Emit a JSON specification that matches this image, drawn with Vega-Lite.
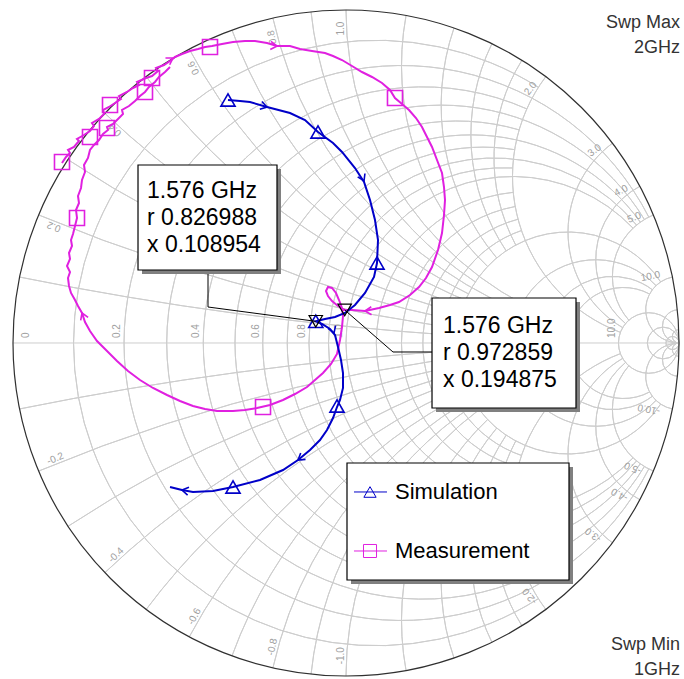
{
"$schema": "https://vega.github.io/schema/vega-lite/v6.json",
"width": 684, "height": 679, "padding": 0, "autosize": {"type": "none"},
"background": "#ffffff",
"config": {"view": {"stroke": null}},
"datasets": {
"grid": [
{"u":0.0909,"v":0,"rad":0.9091,"t1":-212.39,"t2":32.39},
{"u":0.2308,"v":0,"rad":0.7692,"t1":-203.96,"t2":23.96},
{"u":0.3333,"v":0,"rad":0.6667,"t1":-196.26,"t2":16.26},
{"u":0.4118,"v":0,"rad":0.5882,"t1":-189.27,"t2":9.27},
{"u":0.4737,"v":0,"rad":0.5263,"t1":-182.94,"t2":2.94},
{"u":0.5455,"v":0,"rad":0.4545,"t1":-174.55,"t2":-5.45},
{"u":0.5833,"v":0,"rad":0.4167,"t1":-169.61,"t2":-10.39},
{"u":0.6154,"v":0,"rad":0.3846,"t1":-165.14,"t2":-14.86},
{"u":0.6429,"v":0,"rad":0.3571,"t1":-161.08,"t2":-18.92},
{"u":0.1667,"v":0,"rad":0.8333,"t1":-243.01,"t2":63.01},
{"u":0.2857,"v":0,"rad":0.7143,"t1":-238.72,"t2":58.72},
{"u":0.375,"v":0,"rad":0.625,"t1":-234.52,"t2":54.52},
{"u":0.4444,"v":0,"rad":0.5556,"t1":-230.4,"t2":50.4},
{"u":0.5,"v":0,"rad":0.5,"t1":-226.4,"t2":46.4},
{"u":0.6667,"v":0,"rad":0.3333,"t1":-236.6,"t2":56.6},
{"u":0.75,"v":0,"rad":0.25,"t1":-226.4,"t2":46.4},
{"u":0.8,"v":0,"rad":0.2,"t1":-216.87,"t2":36.87},
{"u":0.8333,"v":0,"rad":0.1667,"t1":-208.07,"t2":28.07},
{"u":0.9091,"v":0,"rad":0.0909,"t1":-270,"t2":90},
{"u":0.9524,"v":0,"rad":0.0476,"t1":-270,"t2":90},
{"u":0.9804,"v":0,"rad":0.0196,"t1":-270,"t2":90},
{"u":1,"v":10,"rad":10,"t1":183.82,"t2":191.42},
{"u":1,"v":-10,"rad":10,"t1":-11.42,"t2":-3.82},
{"u":1,"v":3.3333,"rad":3.3333,"t1":191.42,"t2":213.4},
{"u":1,"v":-3.3333,"rad":3.3333,"t1":-33.4,"t2":-11.42},
{"u":1,"v":2,"rad":2,"t1":198.92,"t2":233.13},
{"u":1,"v":-2,"rad":2,"t1":-53.13,"t2":-18.92},
{"u":1,"v":1.4286,"rad":1.4286,"t1":206.27,"t2":249.98},
{"u":1,"v":-1.4286,"rad":1.4286,"t1":-69.98,"t2":-26.27},
{"u":1,"v":1.1111,"rad":1.1111,"t1":213.4,"t2":263.97},
{"u":1,"v":-1.1111,"rad":1.1111,"t1":-83.97,"t2":-33.4},
{"u":1,"v":0.8333,"rad":0.8333,"t1":223.6,"t2":280.39},
{"u":1,"v":-0.8333,"rad":0.8333,"t1":-100.39,"t2":-43.6},
{"u":1,"v":0.7143,"rad":0.7143,"t1":230.04,"t2":288.92},
{"u":1,"v":-0.7143,"rad":0.7143,"t1":-108.92,"t2":-50.04},
{"u":1,"v":0.625,"rad":0.625,"t1":236.14,"t2":295.99},
{"u":1,"v":-0.625,"rad":0.625,"t1":-115.99,"t2":-56.14},
{"u":1,"v":0.5556,"rad":0.5556,"t1":241.93,"t2":301.89},
{"u":1,"v":-0.5556,"rad":0.5556,"t1":-121.89,"t2":-61.93},
{"u":1,"v":5,"rad":5,"t1":183.82,"t2":202.62},
{"u":1,"v":-5,"rad":5,"t1":-22.62,"t2":-3.82},
{"u":1,"v":2.5,"rad":2.5,"t1":187.63,"t2":223.6},
{"u":1,"v":-2.5,"rad":2.5,"t1":-43.6,"t2":-7.63},
{"u":1,"v":1.6667,"rad":1.6667,"t1":191.42,"t2":241.93},
{"u":1,"v":-1.6667,"rad":1.6667,"t1":-61.93,"t2":-11.42},
{"u":1,"v":1.25,"rad":1.25,"t1":195.19,"t2":257.32},
{"u":1,"v":-1.25,"rad":1.25,"t1":-77.32,"t2":-15.19},
{"u":1,"v":1,"rad":1,"t1":198.92,"t2":270},
{"u":1,"v":-1,"rad":1,"t1":-90,"t2":-18.92},
{"u":1,"v":0.5,"rad":0.5,"t1":200.61,"t2":306.87},
{"u":1,"v":-0.5,"rad":0.5,"t1":-126.87,"t2":-20.61},
{"u":1,"v":0.3333,"rad":0.3333,"t1":210.51,"t2":323.13},
{"u":1,"v":-0.3333,"rad":0.3333,"t1":-143.13,"t2":-30.51},
{"u":1,"v":0.25,"rad":0.25,"t1":219.96,"t2":331.93},
{"u":1,"v":-0.25,"rad":0.25,"t1":-151.93,"t2":-39.96},
{"u":1,"v":0.2,"rad":0.2,"t1":228.88,"t2":337.38},
{"u":1,"v":-0.2,"rad":0.2,"t1":-157.38,"t2":-48.88},
{"u":1,"v":0.1,"rad":0.1,"t1":180,"t2":348.58},
{"u":1,"v":-0.1,"rad":0.1,"t1":-168.58,"t2":0},
{"u":1,"v":0.05,"rad":0.05,"t1":180,"t2":354.28},
{"u":1,"v":-0.05,"rad":0.05,"t1":-174.28,"t2":0},
{"u":1,"v":0.02,"rad":0.02,"t1":180,"t2":357.71},
{"u":1,"v":-0.02,"rad":0.02,"t1":-177.71,"t2":0}
],
"axisLabels": [
{"u":-0.946,"v":0.015,"t":"0"},
{"u":-0.672,"v":0.015,"t":"0.2"},
{"u":-0.434,"v":0.015,"t":"0.4"},
{"u":-0.255,"v":0.015,"t":"0.6"},
{"u":-0.116,"v":0.015,"t":"0.8"},
{"u":-0.005,"v":0.015,"t":"1.0"},
{"u":0.328,"v":0.015,"t":"2.0"},
{"u":0.495,"v":0.015,"t":"3.0"},
{"u":0.595,"v":0.015,"t":"4.0"},
{"u":0.662,"v":0.015,"t":"5.0"},
{"u":0.813,"v":0.015,"t":"10.0"}
],
"rimTop": [
{"u":-0.8908,"v":0.3711,"t":"0.2","ang":-157.38},
{"u":-0.6988,"v":0.6656,"t":"0.4","ang":-136.4},
{"u":-0.4541,"v":0.8515,"t":"0.6","ang":-118.07},
{"u":-0.2118,"v":0.9415,"t":"0.8","ang":-102.68},
{"u":0,"v":0.965,"t":"1.0","ang":-90},
{"u":0.579,"v":0.772,"t":"2.0","ang":-53.13},
{"u":0.772,"v":0.579,"t":"3.0","ang":-36.87},
{"u":0.8515,"v":0.4541,"t":"4.0","ang":-28.07},
{"u":0.8908,"v":0.3711,"t":"5.0","ang":-22.62},
{"u":0.9459,"v":0.1911,"t":"10.0","ang":-11.42}
],
"rimBot": [
{"u":-0.8908,"v":-0.3711,"t":"-0.2","ang":-22.62},
{"u":-0.6988,"v":-0.6656,"t":"-0.4","ang":-43.6},
{"u":-0.4541,"v":-0.8515,"t":"-0.6","ang":-61.93},
{"u":-0.2118,"v":-0.9415,"t":"-0.8","ang":-77.32},
{"u":0,"v":-0.965,"t":"-1.0","ang":-90},
{"u":0.579,"v":-0.772,"t":"-2.0","ang":-126.87},
{"u":0.772,"v":-0.579,"t":"-3.0","ang":-143.13},
{"u":0.8515,"v":-0.4541,"t":"-4.0","ang":-151.93},
{"u":0.8908,"v":-0.3711,"t":"-5.0","ang":-157.38},
{"u":0.9459,"v":-0.1911,"t":"-10.0","ang":-168.58}
],
"meas": [
{"i":0,"u":-0.8529,"v":0.5405},{"i":1,"u":-0.8408,"v":0.5586},{"i":2,"u":-0.8288,"v":0.5706},{"i":3,"u":-0.8348,"v":0.5796},{"i":4,"u":-0.8168,"v":0.5886},{"i":5,"u":-0.8018,"v":0.6066},{"i":6,"u":-0.8078,"v":0.6126},{"i":7,"u":-0.7868,"v":0.6246},{"i":8,"u":-0.7688,"v":0.6366},{"i":9,"u":-0.7568,"v":0.6517},
{"i":10,"u":-0.7628,"v":0.6607},{"i":11,"u":-0.7417,"v":0.6727},{"i":12,"u":-0.7267,"v":0.6877},{"i":13,"u":-0.7297,"v":0.6997},{"i":14,"u":-0.7117,"v":0.7087},{"i":15,"u":-0.6937,"v":0.7207},{"i":16,"u":-0.6757,"v":0.7327},{"i":17,"u":-0.6817,"v":0.7417},{"i":18,"u":-0.6577,"v":0.7538},{"i":19,"u":-0.6396,"v":0.7658},
{"i":20,"u":-0.6216,"v":0.7748},{"i":21,"u":-0.6276,"v":0.7838},{"i":22,"u":-0.6006,"v":0.7958},{"i":23,"u":-0.5826,"v":0.8018},{"i":24,"u":-0.5646,"v":0.8168},{"i":25,"u":-0.5706,"v":0.8258},{"i":26,"u":-0.5465,"v":0.8348},{"i":27,"u":-0.5285,"v":0.8468},{"i":28,"u":-0.5135,"v":0.8589},{"i":29,"u":-0.4925,"v":0.8679},
{"i":30,"u":-0.4685,"v":0.8769},{"i":31,"u":-0.4444,"v":0.8829},{"i":32,"u":-0.4234,"v":0.8889},{"i":33,"u":-0.4024,"v":0.8919},{"i":34,"u":-0.3724,"v":0.8979},{"i":35,"u":-0.3393,"v":0.9039},{"i":36,"u":-0.3033,"v":0.9069},{"i":37,"u":-0.2733,"v":0.9069},{"i":38,"u":-0.2372,"v":0.9009},{"i":39,"u":-0.2072,"v":0.8919},
{"i":40,"u":-0.1682,"v":0.8919},{"i":41,"u":-0.1381,"v":0.8829},{"i":42,"u":-0.1021,"v":0.8769},{"i":43,"u":-0.0631,"v":0.8709},{"i":44,"u":-0.039,"v":0.8619},{"i":45,"u":-0.012,"v":0.8498},{"i":46,"u":0.018,"v":0.8318},{"i":47,"u":0.048,"v":0.8138},{"i":48,"u":0.0781,"v":0.7988},{"i":49,"u":0.1081,"v":0.7808},
{"i":50,"u":0.1321,"v":0.7598},{"i":51,"u":0.1471,"v":0.7357},{"i":52,"u":0.1682,"v":0.7177},{"i":53,"u":0.1892,"v":0.6997},{"i":54,"u":0.2102,"v":0.6757},{"i":55,"u":0.2282,"v":0.6486},{"i":56,"u":0.2432,"v":0.6186},{"i":57,"u":0.2583,"v":0.5886},{"i":58,"u":0.2733,"v":0.5495},{"i":59,"u":0.2883,"v":0.5105},
{"i":60,"u":0.2943,"v":0.4685},{"i":61,"u":0.2973,"v":0.4294},{"i":62,"u":0.2943,"v":0.3844},{"i":63,"u":0.2883,"v":0.3303},{"i":64,"u":0.2763,"v":0.2793},{"i":65,"u":0.2583,"v":0.2282},{"i":66,"u":0.2402,"v":0.1952},{"i":67,"u":0.2192,"v":0.1682},{"i":68,"u":0.1922,"v":0.1441},{"i":69,"u":0.1592,"v":0.1231},
{"i":70,"u":0.1321,"v":0.1141},{"i":71,"u":0.0991,"v":0.1051},{"i":72,"u":0.0571,"v":0.0961},{"i":73,"u":0.018,"v":0.0991},{"i":74,"u":-0.0039,"v":0.0992},{"i":75,"u":-0.024,"v":0.1111},{"i":76,"u":-0.042,"v":0.1261},{"i":77,"u":-0.0541,"v":0.1411},{"i":78,"u":-0.0601,"v":0.1562},{"i":79,"u":-0.0541,"v":0.1682},
{"i":80,"u":-0.042,"v":0.1652},{"i":81,"u":-0.03,"v":0.1502},{"i":82,"u":-0.021,"v":0.1291},{"i":83,"u":-0.012,"v":0.1051},{"i":84,"u":-0.009,"v":0.0811},{"i":85,"u":-0.012,"v":0.048},{"i":86,"u":-0.018,"v":0.009},{"i":87,"u":-0.027,"v":-0.033},{"i":88,"u":-0.045,"v":-0.0631},{"i":89,"u":-0.0691,"v":-0.0901},
{"i":90,"u":-0.0931,"v":-0.1111},{"i":91,"u":-0.1171,"v":-0.1321},{"i":92,"u":-0.1532,"v":-0.1532},{"i":93,"u":-0.1892,"v":-0.1712},{"i":94,"u":-0.2282,"v":-0.1862},{"i":95,"u":-0.2673,"v":-0.1952},{"i":96,"u":-0.3033,"v":-0.2012},{"i":97,"u":-0.3393,"v":-0.2042},{"i":98,"u":-0.3874,"v":-0.2042},{"i":99,"u":-0.4234,"v":-0.1982},
{"i":100,"u":-0.4595,"v":-0.1892},{"i":101,"u":-0.4985,"v":-0.1742},{"i":102,"u":-0.5375,"v":-0.1562},{"i":103,"u":-0.5796,"v":-0.1351},{"i":104,"u":-0.6186,"v":-0.1111},{"i":105,"u":-0.6547,"v":-0.0841},{"i":106,"u":-0.6877,"v":-0.0541},{"i":107,"u":-0.7177,"v":-0.024},{"i":108,"u":-0.7477,"v":0.006},{"i":109,"u":-0.7688,"v":0.036},
{"i":110,"u":-0.7838,"v":0.0631},{"i":111,"u":-0.7928,"v":0.0901},{"i":112,"u":-0.8048,"v":0.1111},{"i":113,"u":-0.8138,"v":0.1291},{"i":114,"u":-0.8258,"v":0.1502},{"i":115,"u":-0.8318,"v":0.1712},{"i":116,"u":-0.8348,"v":0.1952},{"i":117,"u":-0.8288,"v":0.2132},{"i":118,"u":-0.8378,"v":0.2312},{"i":119,"u":-0.8288,"v":0.2523},
{"i":120,"u":-0.8318,"v":0.2703},{"i":121,"u":-0.8228,"v":0.2913},{"i":122,"u":-0.8258,"v":0.3093},{"i":123,"u":-0.8198,"v":0.3273},{"i":124,"u":-0.8138,"v":0.3514},{"i":125,"u":-0.8078,"v":0.3754},{"i":126,"u":-0.8108,"v":0.3994},{"i":127,"u":-0.8018,"v":0.4204},{"i":128,"u":-0.8048,"v":0.4414},{"i":129,"u":-0.7958,"v":0.4655},
{"i":130,"u":-0.7928,"v":0.4895},{"i":131,"u":-0.7838,"v":0.5135},{"i":132,"u":-0.7868,"v":0.5345},{"i":133,"u":-0.7748,"v":0.5556},{"i":134,"u":-0.7688,"v":0.5796},{"i":135,"u":-0.7568,"v":0.5946},{"i":136,"u":-0.7417,"v":0.6096},{"i":137,"u":-0.7297,"v":0.6276},{"i":138,"u":-0.7147,"v":0.6396},{"i":139,"u":-0.7177,"v":0.6486},
{"i":140,"u":-0.6997,"v":0.6577},{"i":141,"u":-0.6847,"v":0.6727},{"i":142,"u":-0.6697,"v":0.6877},{"i":143,"u":-0.6727,"v":0.6997},{"i":144,"u":-0.6517,"v":0.7117},{"i":145,"u":-0.6336,"v":0.7267},{"i":146,"u":-0.6186,"v":0.7417},{"i":147,"u":-0.6036,"v":0.7538},{"i":148,"u":-0.5916,"v":0.7688},{"i":149,"u":-0.5736,"v":0.7838},
{"i":150,"u":-0.5616,"v":0.7988},{"i":151,"u":-0.5435,"v":0.8138},{"i":152,"u":-0.5285,"v":0.8288}
],
"sim": [
{"i":0,"u":-0.3544,"v":0.7297},{"i":1,"u":-0.3183,"v":0.7267},{"i":2,"u":-0.2883,"v":0.7237},{"i":3,"u":-0.2372,"v":0.7087},{"i":4,"u":-0.1682,"v":0.6907},{"i":5,"u":-0.1231,"v":0.6697},{"i":6,"u":-0.0841,"v":0.6336},{"i":7,"u":-0.039,"v":0.6006},{"i":8,"u":-0.012,"v":0.5736},{"i":9,"u":0.027,"v":0.5255},
{"i":10,"u":0.0541,"v":0.4835},{"i":11,"u":0.0721,"v":0.4294},{"i":12,"u":0.0871,"v":0.3694},{"i":13,"u":0.0961,"v":0.3093},{"i":14,"u":0.0931,"v":0.2402},{"i":15,"u":0.0841,"v":0.1982},{"i":16,"u":0.0571,"v":0.1502},{"i":17,"u":0.027,"v":0.1141},{"i":18,"u":-0.003,"v":0.0901},{"i":19,"u":-0.033,"v":0.0781},
{"i":20,"u":-0.0631,"v":0.0721},{"i":21,"u":-0.0908,"v":0.0651},{"i":22,"u":-0.0721,"v":0.0571},{"i":23,"u":-0.048,"v":0.042},{"i":24,"u":-0.033,"v":0.024},{"i":25,"u":-0.024,"v":-0.012},{"i":26,"u":-0.015,"v":-0.0511},{"i":27,"u":-0.009,"v":-0.0901},{"i":28,"u":-0.009,"v":-0.1351},{"i":29,"u":-0.018,"v":-0.1712},
{"i":30,"u":-0.027,"v":-0.1922},{"i":31,"u":-0.039,"v":-0.2252},{"i":32,"u":-0.0571,"v":-0.2613},{"i":33,"u":-0.0781,"v":-0.2913},{"i":34,"u":-0.1081,"v":-0.3213},{"i":35,"u":-0.1441,"v":-0.3514},{"i":36,"u":-0.1892,"v":-0.3814},{"i":37,"u":-0.2583,"v":-0.4114},{"i":38,"u":-0.3393,"v":-0.4324},{"i":39,"u":-0.3994,"v":-0.4444},
{"i":40,"u":-0.4595,"v":-0.4474},{"i":41,"u":-0.4925,"v":-0.4414},{"i":42,"u":-0.5285,"v":-0.4324}
],
"measMk": [
{"u":-0.8529,"v":0.5435},{"u":-0.8078,"v":0.3754},{"u":-0.7688,"v":0.6186},{"u":-0.7177,"v":0.6456},{"u":-0.7087,"v":0.7147},
{"u":-0.6036,"v":0.7538},{"u":-0.5826,"v":0.7958},{"u":-0.4084,"v":0.8889},{"u":0.1471,"v":0.7357},{"u":-0.2492,"v":-0.1922}
],
"simMk": [
{"u":-0.3544,"v":0.7297},{"u":-0.0841,"v":0.6336},{"u":0.0931,"v":0.2402},{"u":-0.0908,"v":0.0651},{"u":-0.027,"v":-0.1892},{"u":-0.3393,"v":-0.4324}
],
"arrows": [
{"u":-0.2372,"v":0.7087,"s":"sim","ang":15},
{"u":0.0541,"v":0.4865,"s":"sim","ang":65},
{"u":-0.036,"v":0.03,"s":"sim","ang":70},
{"u":-0.1441,"v":-0.3514,"s":"sim","ang":143},
{"u":-0.4925,"v":-0.4414,"s":"sim","ang":190},
{"u":-0.2072,"v":0.8919,"s":"meas","ang":5},
{"u":-0.5195,"v":0.8559,"s":"meas","ang":-32},
{"u":-0.7928,"v":0.0901,"s":"meas","ang":-112},
{"u":0.0571,"v":0.0961,"s":"meas","ang":178}
],
"annMk": [{"u":-0.0908,"v":0.0651},{"u":-0.0039,"v":0.0992}],
"leaders": [
{"id":1,"i":0,"u":-0.4144,"v":0.2192},{"id":1,"i":1,"u":-0.4144,"v":0.1081},{"id":1,"i":2,"u":-0.0908,"v":0.0651},
{"id":2,"i":0,"u":0.2583,"v":-0.027},{"id":2,"i":1,"u":0.1411,"v":-0.027},{"id":2,"i":2,"u":-0.0039,"v":0.0992}
],
"shadows": [
{"u":-0.6126,"u2":-0.1952,"v":0.5225,"v2":0.2072},
{"u":0.2703,"u2":0.7027,"v":0.1231,"v2":-0.2072},
{"u":0.015,"u2":0.6817,"v":-0.3724,"v2":-0.7237}
],
"boxes": [
{"u":-0.6246,"u2":-0.2072,"v":0.5345,"v2":0.2192},
{"u":0.2583,"u2":0.6907,"v":0.1351,"v2":-0.1952},
{"u":0.003,"u2":0.6697,"v":-0.3604,"v2":-0.7117}
],
"annText": [
{"u":-0.5976,"v":0.4354,"t":"1.576 GHz"},
{"u":-0.5976,"v":0.3544,"t":"r 0.826988"},
{"u":-0.5976,"v":0.2733,"t":"x 0.108954"},
{"u":0.2913,"v":0.03,"t":"1.576 GHz"},
{"u":0.2913,"v":-0.0511,"t":"r 0.972859"},
{"u":0.2913,"v":-0.1321,"t":"x 0.194875"}
],
"legLines": [
{"u":0.024,"u2":0.1231,"v":-0.4474,"s":"sim"},
{"u":0.024,"u2":0.1231,"v":-0.6246,"s":"meas"}
],
"legTri": [{"u":0.0721,"v":-0.4474}],
"legSq": [{"u":0.0721,"v":-0.6246}],
"legText": [
{"u":0.1471,"v":-0.4685,"t":"Simulation"},
{"u":0.1471,"v":-0.6456,"t":"Measurement"}
],
"swp": [
{"u":1.003,"v":0.9459,"t":"Swp Max"},
{"u":1.003,"v":0.8709,"t":"2GHz"},
{"u":1.003,"v":-0.9219,"t":"Swp Min"},
{"u":1.003,"v":-0.997,"t":"1GHz"}
]
},
"encoding": {
"x": {"field":"u","type":"quantitative","scale":{"domain":[-1.03904,1.01502],"nice":false,"zero":false},"axis":null},
"y": {"field":"v","type":"quantitative","scale":{"domain":[-1.00901,1.03003],"nice":false,"zero":false},"axis":null}
},
"layer": [
{"data":{"name":"grid"},"mark":{"type":"arc","filled":false,"color":"#cdcdcd","strokeWidth":1},
 "encoding":{
  "theta":{"field":"t1","type":"quantitative","stack":null,"scale":{"type":"linear","domain":[0,360],"range":[0,6.283185307]}},
  "theta2":{"field":"t2"},
  "radius":{"field":"rad","type":"quantitative","stack":null,"scale":{"type":"linear","domain":[0,1],"range":[0,333]}},
  "radius2":{"field":"rad"}}},
{"data":{"values":[{"u":-1,"u2":1,"v":0}]},"mark":{"type":"rule","color":"#cdcdcd","strokeWidth":1},"encoding":{"x2":{"field":"u2"}}},
{"data":{"values":[{"u":0,"v":0,"rad":1,"t1":0,"t2":360}]},"mark":{"type":"arc","filled":false,"color":"#303030","strokeWidth":1.2},
 "encoding":{
  "theta":{"field":"t1","type":"quantitative","stack":null},
  "theta2":{"field":"t2"},
  "radius":{"field":"rad","type":"quantitative","stack":null},
  "radius2":{"field":"rad"}}},
{"data":{"name":"axisLabels"},"mark":{"type":"text","angle":270,"align":"left","baseline":"bottom","fontSize":10,"font":"Liberation Sans","color":"#a0a0a0"},"encoding":{"text":{"field":"t"}}},
{"data":{"name":"rimTop"},"mark":{"type":"text","align":"right","baseline":"bottom","fontSize":10,"font":"Liberation Sans","color":"#a0a0a0"},"encoding":{"text":{"field":"t"},"angle":{"field":"ang","type":"quantitative","scale":null}}},
{"data":{"name":"rimBot"},"mark":{"type":"text","align":"left","baseline":"bottom","fontSize":10,"font":"Liberation Sans","color":"#a0a0a0"},"encoding":{"text":{"field":"t"},"angle":{"field":"ang","type":"quantitative","scale":null}}},
{"data":{"name":"meas"},"mark":{"type":"line","color":"#e020e0","strokeWidth":2},"encoding":{"order":{"field":"i","type":"quantitative"}}},
{"data":{"name":"sim"},"mark":{"type":"line","color":"#0000c8","strokeWidth":2},"encoding":{"order":{"field":"i","type":"quantitative"}}},
{"data":{"name":"measMk"},"mark":{"type":"point","shape":"square","filled":false,"color":"#e020e0","size":225,"strokeWidth":1.6,"opacity":1}},
{"data":{"name":"simMk"},"mark":{"type":"point","shape":"triangle-up","filled":false,"color":"#0000c8","size":200,"strokeWidth":1.6,"opacity":1}},
{"data":{"name":"arrows"},"mark":{"type":"point","shape":"M-1.6,-1L0,0L-1.6,1","filled":false,"size":64,"strokeWidth":1.6,"opacity":1},
 "encoding":{"color":{"field":"s","type":"nominal","scale":{"domain":["sim","meas"],"range":["#0000c8","#e020e0"]},"legend":null},"angle":{"field":"ang","type":"quantitative","scale":null}}},
{"data":{"name":"annMk"},"mark":{"type":"point","shape":"triangle-down","filled":false,"color":"#000000","size":180,"strokeWidth":1.2,"opacity":1}},
{"data":{"name":"leaders"},"mark":{"type":"line","color":"#000000","strokeWidth":1},"encoding":{"detail":{"field":"id"},"order":{"field":"i","type":"quantitative"}}},
{"data":{"name":"shadows"},"mark":{"type":"rect","color":"#808080"},"encoding":{"x2":{"field":"u2"},"y2":{"field":"v2"}}},
{"data":{"name":"boxes"},"mark":{"type":"rect","fill":"#ffffff","stroke":"#000000","strokeWidth":1.2},"encoding":{"x2":{"field":"u2"},"y2":{"field":"v2"}}},
{"data":{"name":"annText"},"mark":{"type":"text","align":"left","baseline":"alphabetic","fontSize":23,"font":"Liberation Sans","color":"#000000"},"encoding":{"text":{"field":"t"}}},
{"data":{"name":"legLines"},"mark":{"type":"rule","strokeWidth":1},"encoding":{"x2":{"field":"u2"},"color":{"field":"s","type":"nominal","legend":null}}},
{"data":{"name":"legTri"},"mark":{"type":"point","shape":"triangle-up","filled":false,"color":"#0000c8","size":150,"strokeWidth":1,"opacity":1}},
{"data":{"name":"legSq"},"mark":{"type":"point","shape":"square","filled":false,"color":"#e020e0","size":170,"strokeWidth":1,"opacity":1}},
{"data":{"name":"legText"},"mark":{"type":"text","align":"left","baseline":"alphabetic","fontSize":22,"font":"Liberation Sans","color":"#000000"},"encoding":{"text":{"field":"t"}}},
{"data":{"name":"swp"},"mark":{"type":"text","align":"right","baseline":"alphabetic","fontSize":18,"font":"Liberation Sans","color":"#333333"},"encoding":{"text":{"field":"t"}}}
]
}
